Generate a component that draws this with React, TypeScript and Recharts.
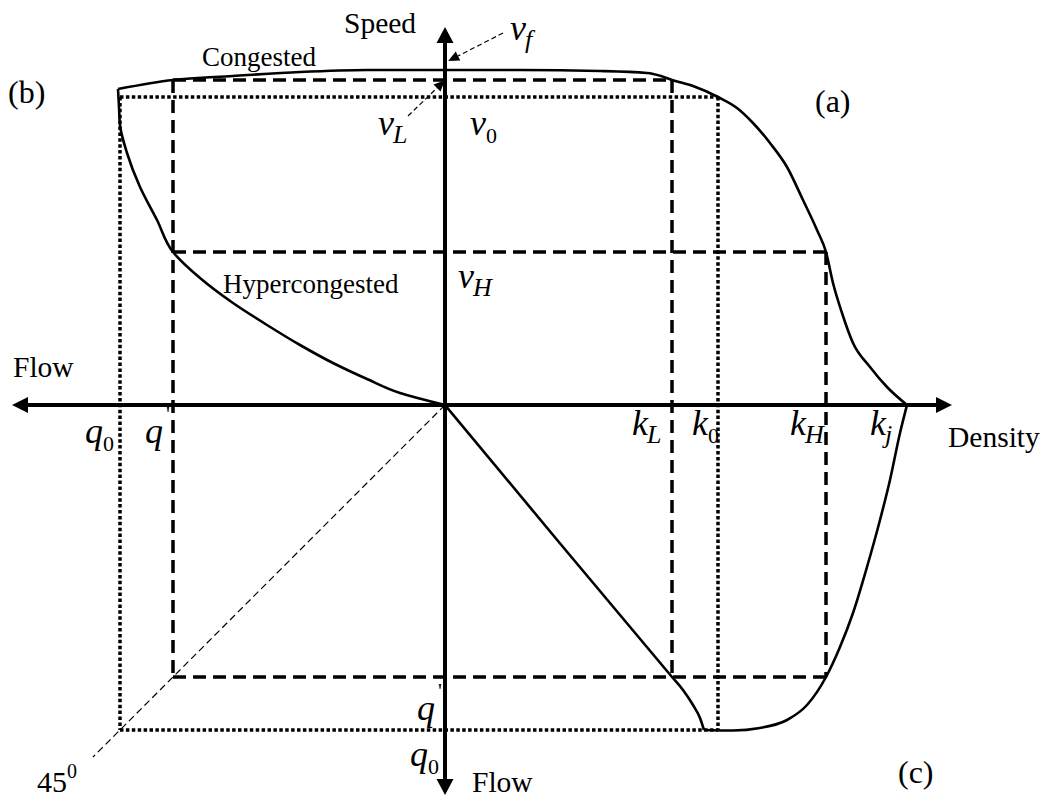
import React from 'react';
import { ComposedChart, Line, Scatter, XAxis, YAxis } from 'recharts';

type Pt = { x: number; y: number };

// Characteristic values of the fundamental diagram (chart units).
// Speed is measured upward, density to the right, flow to the left (b) and downward (c).
const vf = 335;
const vL = 325;
const v0 = 308;
const vH = 153;
const kL = 227;
const k0 = 273;
const kH = 381;
const kj = 462;
const qPrime = 272;
const q0 = 325;

// (a) speed-density curve
const speedDensity: Pt[] = [
  { x: 0, y: vf },
  { x: 75, y: 335 },
  { x: 155, y: 334 },
  { x: 202, y: 332 },
  { x: 216, y: 329 },
  { x: kL, y: vL },
  { x: 248, y: 319 },
  { x: k0, y: v0 },
  { x: 292, y: 297 },
  { x: 308, y: 282 },
  { x: 325, y: 262 },
  { x: 342, y: 238 },
  { x: 358, y: 205 },
  { x: 372, y: 175 },
  { x: kH, y: vH },
  { x: 388, y: 122 },
  { x: 397, y: 92 },
  { x: 408, y: 62 },
  { x: 425, y: 38 },
  { x: 442, y: 18 },
  { x: kj, y: 0 },
];

// (b) speed-flow curve, congested branch
const flowSpeedCongested: Pt[] = [
  { x: -327, y: 316 },
  { x: -qPrime, y: vL },
  { x: -212, y: 329 },
  { x: -145, y: 333 },
  { x: -78, y: 335 },
  { x: 0, y: vf },
];

// (b) speed-flow curve, hypercongested branch
const flowSpeedHyper: Pt[] = [
  { x: -327, y: 316 },
  { x: -326, y: 298 },
  { x: -325, y: 280 },
  { x: -318, y: 252 },
  { x: -305, y: 218 },
  { x: -288, y: 185 },
  { x: -qPrime, y: vH },
  { x: -245, y: 127 },
  { x: -212, y: 102 },
  { x: -178, y: 80 },
  { x: -145, y: 60 },
  { x: -112, y: 42 },
  { x: -78, y: 26 },
  { x: -45, y: 12 },
  { x: 0, y: 0 },
];

// (c) flow-density curve, flow measured downward
const flowDensityRising: Pt[] = [
  { x: 0, y: 0 },
  { x: 113, y: -136 },
  { x: kL, y: -qPrime },
  { x: 238, y: -285 },
  { x: 248, y: -300 },
  { x: 255, y: -313 },
  { x: 259, y: -325 },
];

const flowDensityFalling: Pt[] = [
  { x: 259, y: -325 },
  { x: 288, y: -325.5 },
  { x: 315, y: -323 },
  { x: 342, y: -315 },
  { x: 362, y: -300 },
  { x: kH, y: -qPrime },
  { x: 395, y: -242 },
  { x: 408, y: -208 },
  { x: 422, y: -162 },
  { x: 435, y: -115 },
  { x: 445, y: -75 },
  { x: 455, y: -28 },
  { x: kj, y: 0 },
];

// Dashed construction lines through (k_L, v_L) and (k_H, v_H), flow q'
const dashedLines: Pt[][] = [
  [{ x: -qPrime, y: vL }, { x: kL, y: vL }],
  [{ x: -qPrime, y: vH }, { x: kH, y: vH }],
  [{ x: -qPrime, y: -qPrime }, { x: kH, y: -qPrime }],
  [{ x: -qPrime, y: vL }, { x: -qPrime, y: -qPrime }],
  [{ x: kL, y: vL }, { x: kL, y: -qPrime }],
  [{ x: kH, y: vH }, { x: kH, y: -qPrime }],
];

// Dotted construction lines through capacity (k_0, v_0), flow q_0
const dottedLines: Pt[][] = [
  [{ x: -q0, y: v0 }, { x: k0, y: v0 }],
  [{ x: -q0, y: v0 }, { x: -q0, y: -q0 }],
  [{ x: k0, y: v0 }, { x: k0, y: -q0 }],
  [{ x: -q0, y: -q0 }, { x: k0, y: -q0 }],
];

// 45 degree mirror line between the two flow axes
const mirrorLine: Pt[] = [
  { x: 0, y: 0 },
  { x: -352, y: -352 },
];

// Pointers from the speed labels to the axis
const pointerVL: Pt[] = [
  { x: -37, y: 289 },
  { x: -8, y: 317 },
];
const pointerVf: Pt[] = [
  { x: 58, y: 372 },
  { x: 13, y: 349 },
];

// Axes
const densityFlowAxis: Pt[] = [
  { x: -417, y: 0 },
  { x: 491, y: 0 },
];
const speedFlowAxis: Pt[] = [
  { x: 0, y: 362 },
  { x: 0, y: -374 },
];

type Note = {
  x: number;
  y: number;
  text: string;
  kind: 'title' | 'word' | 'tag' | 'var' | 'angle';
  sub?: string;
  sup?: string;
  prime?: boolean;
};

const notes: Note[] = [
  { x: -101, y: 372, text: 'Speed', kind: 'title' },
  { x: -243, y: 339, text: 'Congested', kind: 'word' },
  { x: -222, y: 112, text: 'Hypercongested', kind: 'word' },
  { x: -432, y: 28, text: 'Flow', kind: 'title' },
  { x: 27, y: -387, text: 'Flow', kind: 'title' },
  { x: 503, y: -42, text: 'Density', kind: 'title' },
  { x: -437, y: 302, text: '(b)', kind: 'tag' },
  { x: 370, y: 293, text: '(a)', kind: 'tag' },
  { x: 453, y: -378, text: '(c)', kind: 'tag' },
  { x: -408, y: -387, text: '45', kind: 'angle', sup: '0' },
  { x: 65, y: 365, text: 'v', kind: 'var', sub: 'f' },
  { x: -67, y: 270, text: 'v', kind: 'var', sub: 'L' },
  { x: 25, y: 270, text: 'v', kind: 'var', sub: '0' },
  { x: 13, y: 117, text: 'v', kind: 'var', sub: 'H' },
  { x: 187, y: -30, text: 'k', kind: 'var', sub: 'L' },
  { x: 247, y: -30, text: 'k', kind: 'var', sub: '0' },
  { x: 345, y: -30, text: 'k', kind: 'var', sub: 'H' },
  { x: 425, y: -30, text: 'k', kind: 'var', sub: 'j' },
  { x: -360, y: -38, text: 'q', kind: 'var', sub: '0' },
  { x: -300, y: -38, text: 'q', kind: 'var', prime: true },
  { x: -28, y: -315, text: 'q', kind: 'var', prime: true },
  { x: -35, y: -361, text: 'q', kind: 'var', sub: '0' },
];

const FONT = "'Liberation Serif', 'Times New Roman', Times, serif";

const NoteShape = (props: any) => {
  const { cx, cy, payload } = props;
  if (cx == null || cy == null || !payload) return <g />;
  const n = payload as Note;
  if (n.kind === 'word' || n.kind === 'tag' || n.kind === 'title') {
    const size = n.kind === 'tag' ? 32 : n.kind === 'title' ? 29.5 : 27;
    return (
      <text x={cx} y={cy} fontFamily={FONT} fontSize={size} fill="#000">
        {n.text}
      </text>
    );
  }
  if (n.kind === 'angle') {
    return (
      <text x={cx} y={cy} fontFamily={FONT} fontSize={30} fill="#000">
        <tspan>{n.text}</tspan>
        {n.sup && (
          <tspan fontSize={20} dy={-14}>
            {n.sup}
          </tspan>
        )}
      </text>
    );
  }
  const digitSub = n.sub ? /^[0-9]+$/.test(n.sub) : false;
  return (
    <g>
      <text x={cx} y={cy} fontFamily={FONT} fontSize={36} fill="#000">
        <tspan fontStyle="italic">{n.text}</tspan>
        {n.sub && (
          <tspan
            fontSize={digitSub ? 22 : 26}
            fontStyle={digitSub ? 'normal' : 'italic'}
            dy={8}
            dx={digitSub ? 0 : -1}
          >
            {n.sub}
          </tspan>
        )}
      </text>
      {n.prime && (
        <text x={cx + 21} y={cy - 22} fontFamily={FONT} fontSize={22} fill="#000">
          {"'"}
        </text>
      )}
    </g>
  );
};

// Arrowhead drawn beyond the end point(s) of a polyline, oriented along its last segment.
const arrowDot =
  (pts: Pt[], len: number, half: number, both: boolean) =>
  (props: any) => {
    const { cx, cy, index } = props;
    const last = pts.length - 1;
    let from: Pt | null = null;
    let to: Pt | null = null;
    if (index === last) {
      from = pts[last - 1];
      to = pts[last];
    } else if (index === 0 && both) {
      from = pts[1];
      to = pts[0];
    }
    if (!from || !to || cx == null || cy == null) return <g key={`n${index}`} />;
    const dx = to.x - from.x;
    const dy = -(to.y - from.y);
    const l = Math.hypot(dx, dy) || 1;
    const ux = dx / l;
    const uy = dy / l;
    const tx = cx + ux * len;
    const ty = cy + uy * len;
    const p1 = `${cx - uy * half},${cy + ux * half}`;
    const p2 = `${cx + uy * half},${cy - ux * half}`;
    return <polygon key={`a${index}`} points={`${tx},${ty} ${p1} ${p2}`} fill="#000" stroke="none" />;
  };

export default function App() {
  return (
    <div style={{ position: 'absolute', left: 0, top: 0, width: 1042, height: 800, background: '#fff' }}>
      <ComposedChart width={1042} height={800} margin={{ top: 0, right: 0, bottom: 0, left: 0 }}>
        <XAxis type="number" dataKey="x" domain={[-445, 597]} allowDataOverflow hide />
        <YAxis type="number" dataKey="y" domain={[-395, 405]} allowDataOverflow hide />

        {dashedLines.map((d, i) => (
          <Line
            key={`dash${i}`}
            data={d}
            dataKey="y"
            type="linear"
            stroke="#000"
            strokeWidth={3.5}
            strokeDasharray="13 7"
            dot={false}
            activeDot={false}
            isAnimationActive={false}
          />
        ))}
        {dottedLines.map((d, i) => (
          <Line
            key={`dot${i}`}
            data={d}
            dataKey="y"
            type="linear"
            stroke="#000"
            strokeWidth={3.5}
            strokeDasharray="3.5 2.4"
            dot={false}
            activeDot={false}
            isAnimationActive={false}
          />
        ))}

        <Line
          data={mirrorLine}
          dataKey="y"
          type="linear"
          stroke="#000"
          strokeWidth={1.2}
          strokeDasharray="7 4"
          dot={false}
          activeDot={false}
          isAnimationActive={false}
        />
        <Line
          data={pointerVL}
          dataKey="y"
          type="linear"
          stroke="#000"
          strokeWidth={1.2}
          strokeDasharray="5 3"
          dot={arrowDot(pointerVL, 11, 5, false)}
          activeDot={false}
          isAnimationActive={false}
        />
        <Line
          data={pointerVf}
          dataKey="y"
          type="linear"
          stroke="#000"
          strokeWidth={1.2}
          strokeDasharray="5 3"
          dot={arrowDot(pointerVf, 11, 5, false)}
          activeDot={false}
          isAnimationActive={false}
        />

        <Line
          data={speedDensity}
          dataKey="y"
          type="monotoneX"
          stroke="#000"
          strokeWidth={2.6}
          dot={false}
          activeDot={false}
          isAnimationActive={false}
        />
        <Line
          data={flowSpeedCongested}
          dataKey="y"
          type="monotoneX"
          stroke="#000"
          strokeWidth={2.6}
          dot={false}
          activeDot={false}
          isAnimationActive={false}
        />
        <Line
          data={flowSpeedHyper}
          dataKey="y"
          type="monotoneY"
          stroke="#000"
          strokeWidth={2.6}
          dot={false}
          activeDot={false}
          isAnimationActive={false}
        />
        <Line
          data={flowDensityRising}
          dataKey="y"
          type="monotoneX"
          stroke="#000"
          strokeWidth={2.6}
          dot={false}
          activeDot={false}
          isAnimationActive={false}
        />
        <Line
          data={flowDensityFalling}
          dataKey="y"
          type="monotoneX"
          stroke="#000"
          strokeWidth={2.6}
          dot={false}
          activeDot={false}
          isAnimationActive={false}
        />

        <Line
          data={densityFlowAxis}
          dataKey="y"
          type="linear"
          stroke="#000"
          strokeWidth={4}
          dot={arrowDot(densityFlowAxis, 16, 8, true)}
          activeDot={false}
          isAnimationActive={false}
        />
        <Line
          data={speedFlowAxis}
          dataKey="y"
          type="linear"
          stroke="#000"
          strokeWidth={4}
          dot={arrowDot(speedFlowAxis, 16, 8.5, true)}
          activeDot={false}
          isAnimationActive={false}
        />

        <Scatter data={notes} dataKey="y" shape={NoteShape} isAnimationActive={false} />
      </ComposedChart>
    </div>
  );
}
